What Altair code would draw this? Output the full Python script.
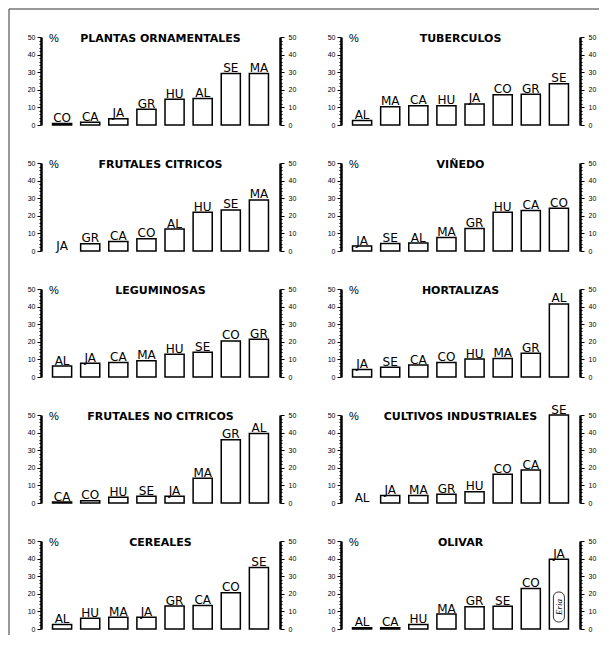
import altair as alt
import pandas as pd

titles = ["PLANTAS ORNAMENTALES", "TUBERCULOS", "FRUTALES CITRICOS", "VIÑEDO",
          "LEGUMINOSAS", "HORTALIZAS", "FRUTALES NO CITRICOS", "CULTIVOS INDUSTRIALES",
          "CEREALES", "OLIVAR"]
cats = [
    ["CO", "CA", "JA", "GR", "HU", "AL", "SE", "MA"],
    ["AL", "MA", "CA", "HU", "JA", "CO", "GR", "SE"],
    ["JA", "GR", "CA", "CO", "AL", "HU", "SE", "MA"],
    ["JA", "SE", "AL", "MA", "GR", "HU", "CA", "CO"],
    ["AL", "JA", "CA", "MA", "HU", "SE", "CO", "GR"],
    ["JA", "SE", "CA", "CO", "HU", "MA", "GR", "AL"],
    ["CA", "CO", "HU", "SE", "JA", "MA", "GR", "AL"],
    ["AL", "JA", "MA", "GR", "HU", "CO", "CA", "SE"],
    ["AL", "HU", "MA", "JA", "GR", "CA", "CO", "SE"],
    ["AL", "CA", "HU", "MA", "GR", "SE", "CO", "JA"],
]
vals = [
    [0.8, 1.5, 3.5, 9.0, 14.7, 15.0, 29.2, 29.2],
    [2.6, 10.4, 11.0, 11.0, 12.0, 17.2, 17.5, 23.4],
    [0.0, 4.1, 5.4, 6.9, 12.5, 22.0, 23.3, 29.0],
    [2.8, 4.3, 4.5, 7.7, 12.8, 22.0, 23.0, 24.3],
    [6.2, 7.8, 8.2, 9.3, 12.9, 14.0, 20.5, 21.5],
    [4.3, 5.6, 6.8, 8.3, 10.2, 10.5, 13.5, 41.5],
    [0.5, 1.3, 3.3, 3.9, 3.9, 14.0, 36.0, 39.5],
    [0.0, 4.3, 4.3, 5.0, 6.4, 16.4, 18.7, 50.0],
    [2.5, 6.1, 6.7, 6.7, 13.0, 13.4, 20.6, 35.0],
    [0.7, 0.7, 2.6, 8.5, 12.7, 12.9, 23.0, 39.7],
]
tick_values = list(range(0, 51, 2))

H = 88
W = 239
TFONT = "Liberation Sans"
LFONT = "DejaVu Sans"


def make_axis(orient, pad):
    return alt.Axis(
        orient=orient, values=tick_values, title=None, grid=False,
        labelExpr="datum.value % 10 === 0 ? datum.label : ''",
        labelFont=TFONT, labelFontSize=7, labelColor="black", labelPadding=pad,
        tickSize={"condition": {"test": "datum.value % 10 === 0", "value": 4}, "value": 2},
        tickColor="black", tickWidth=1,
        domainColor="black", domainWidth=2.5,
    )


def panel(i, width):
    df = pd.DataFrame({"rank": list(range(8)), "cat": cats[i], "v": vals[i]})
    xs = alt.Scale(paddingInner=0.32, paddingOuter=0.41)
    ys = alt.Scale(domain=[0, 50], nice=False)
    x = alt.X("rank:O", axis=None, scale=xs)
    base = alt.Chart(df)
    bars = base.transform_filter("datum.v > 0").mark_bar(
        fill="white", stroke="black", strokeWidth=1.5
    ).encode(x=x, y=alt.Y("v:Q", scale=ys, axis=make_axis("left", 2)))
    labels = base.mark_text(
        font=LFONT, fontSize=12, baseline="alphabetic", dy=-1.5, color="black", clip=False
    ).encode(x=x, y=alt.Y("v:Q", scale=ys, axis=make_axis("right", 4)), text="cat:N")
    tdf = pd.DataFrame({"t": [titles[i]]})
    ttl = alt.Chart(tdf).mark_text(
        font=LFONT, fontSize=11, fontWeight="bold", baseline="alphabetic", align="center", color="black"
    ).encode(x=alt.value(width / 2), y=alt.value(5), text="t:N")
    pdf = pd.DataFrame({"t": ["%"]})
    pct = alt.Chart(pdf).mark_text(
        font=TFONT, fontSize=11, baseline="alphabetic", align="center", color="black"
    ).encode(x=alt.value(13), y=alt.value(5), text="t:N")
    layers = [bars, labels, ttl, pct]
    if titles[i] == "OLIVAR":
        edf = pd.DataFrame({"rank": [7], "t": ["Eria"]})
        oval = alt.Chart(edf).mark_bar(
            width=11, fill="white", stroke="black", strokeWidth=0.8, cornerRadius=5
        ).encode(x=x, y=alt.value(51), y2=alt.value(81))
        word = alt.Chart(edf).mark_text(
            font="Liberation Serif", fontSize=9, fontStyle="italic", angle=270,
            align="center", baseline="middle", color="black"
        ).encode(x=x, y=alt.value(66), text="t:N")
        layers += [oval, word]
    if i == 0:
        fdf = pd.DataFrame({"f": [1]})
        left_edge = alt.Chart(fdf).mark_rule(color="#333", strokeWidth=1).encode(
            x=alt.value(-32), y=alt.value(-28), y2=alt.value(598))
        top_edge = alt.Chart(fdf).mark_rule(color="#333", strokeWidth=1).encode(
            x=alt.value(-32), x2=alt.value(558), y=alt.value(-28))
        layers += [left_edge, top_edge]
    return alt.layer(*layers).resolve_scale(y="independent").resolve_axis(y="independent").properties(
        width=width, height=H
    )


panels = [panel(i, W) for i in range(10)]

chart = alt.concat(*panels, columns=2, spacing={"row": 38, "column": 61}, bounds="flush").properties(
    padding={"left": 0, "top": 0, "right": 0, "bottom": 0}
).configure_view(stroke=None)

chart.save("out.html", embed_options={"renderer": "svg", "actions": False})
